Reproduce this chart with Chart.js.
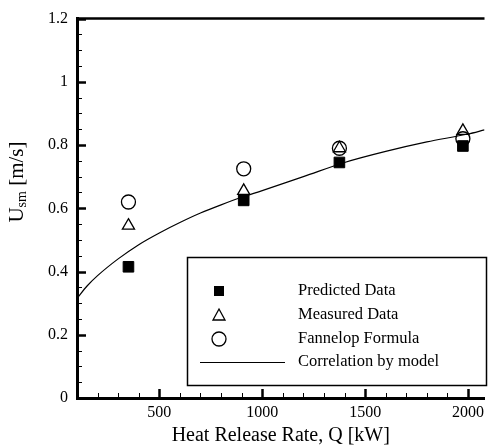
<!DOCTYPE html>
<html><head><meta charset="utf-8">
<script src="https://cdn.jsdelivr.net/npm/chart.js@4/dist/chart.umd.min.js"></script>
<style>html,body{margin:0;padding:0;background:#fff}#wrap{width:493px;height:448px;position:relative}</style>
</head><body><div id="wrap"><canvas id="c" width="493" height="448"></canvas></div>
<script>
const heatRelease = [350, 910, 1375, 1975];
const predicted = [0.415, 0.625, 0.745, 0.797];
const measured = [0.545, 0.655, 0.79, 0.845];
const fannelop = [0.62, 0.725, 0.79, 0.82];
const curveQ = [100, 150, 200, 300, 400, 500, 600, 700, 800, 900, 1000, 1200, 1400, 1600, 1800, 2000, 2080];
const curveU = [0.315, 0.355, 0.387, 0.44, 0.485, 0.522, 0.555, 0.585, 0.611, 0.635, 0.656, 0.70, 0.745, 0.78, 0.81, 0.835, 0.848];
const xTickLabels = [500, 1000, 1500, 2000];
const yTickLabels = [0, 0.2, 0.4, 0.6, 0.8, 1, 1.2];
const seriesNames = ['Predicted Data', 'Measured Data', 'Fannelop Formula', 'Correlation by model'];
const xTitle = 'Heat Release Rate, Q [kW]';

const SERIF = "'Liberation Serif','Times New Roman',serif";

const decor = {
  id: 'decor',
  afterDraw(chart) {
    const ctx = chart.ctx, ca = chart.chartArea;
    const xs = chart.scales.x, ys = chart.scales.y;
    ctx.save();
    ctx.strokeStyle = '#000';
    ctx.lineWidth = 2.5;
    ctx.beginPath(); ctx.moveTo(ca.left - 1, ca.top); ctx.lineTo(ca.right, ca.top); ctx.stroke();
    for (let v = 0; v <= 1.2001; v += 0.05) {
      const major = Math.abs(v / 0.2 - Math.round(v / 0.2)) < 1e-6;
      const py = Math.round(ys.getPixelForValue(v)) + 0.5;
      ctx.lineWidth = major ? 2.5 : 1;
      ctx.beginPath(); ctx.moveTo(ca.left, py); ctx.lineTo(ca.left + (major ? 9 : 5), py); ctx.stroke();
    }
    for (let v = 100; v <= 2080; v += 100) {
      const major = v % 500 === 0;
      const px = Math.round(xs.getPixelForValue(v)) + 0.5;
      ctx.lineWidth = major ? 2.5 : 1;
      ctx.beginPath(); ctx.moveTo(px, ca.bottom); ctx.lineTo(px, ca.bottom - (major ? 9 : 5)); ctx.stroke();
    }
    ctx.fillStyle = '#000';
    ctx.font = '20px ' + SERIF;
    ctx.textAlign = 'center'; ctx.textBaseline = 'middle';
    ctx.fillText(xTitle, (ca.left + ca.right) / 2, 436);
    ctx.save();
    ctx.translate(17, 182);
    ctx.rotate(-Math.PI / 2);
    ctx.textAlign = 'left'; ctx.textBaseline = 'middle';
    const big = '21px ' + SERIF, small = '14px ' + SERIF;
    ctx.font = big; const wU = ctx.measureText('U').width; const wR = ctx.measureText(' [m/s]').width;
    ctx.font = small; const wS = ctx.measureText('sm').width;
    let x0 = -(wU + wS + wR) / 2;
    ctx.font = big; ctx.fillText('U', x0, 0);
    ctx.font = small; ctx.fillText('sm', x0 + wU, 5);
    ctx.font = big; ctx.fillText(' [m/s]', x0 + wU + wS, 0);
    ctx.restore();
    const bx = 187, by = 257, bw = 299, bh = 128;
    ctx.lineWidth = 1.5;
    ctx.strokeRect(bx + 0.5, by + 0.5, bw, bh);
    const rows = [291, 315, 339, 362];
    const sx = 219, tx = 298;
    ctx.font = '16.5px ' + SERIF;
    ctx.textAlign = 'left'; ctx.textBaseline = 'middle';
    rows.forEach((ry, i) => { ctx.fillText(seriesNames[i], tx, ry); });
    ctx.fillRect(sx - 5, rows[0] - 5, 10, 10);
    ctx.lineWidth = 1.3;
    ctx.beginPath(); ctx.moveTo(sx, rows[1] - 6); ctx.lineTo(sx + 6, rows[1] + 5); ctx.lineTo(sx - 6, rows[1] + 5); ctx.closePath(); ctx.stroke();
    ctx.beginPath(); ctx.arc(sx, rows[2], 7, 0, Math.PI * 2); ctx.stroke();
    ctx.lineWidth = 1.2;
    ctx.beginPath(); ctx.moveTo(200, rows[3] + 0.5); ctx.lineTo(285, rows[3] + 0.5); ctx.stroke();
    ctx.restore();
  }
};

const pts = (vals) => heatRelease.map((q, i) => ({ x: q, y: vals[i] }));

new Chart(document.getElementById('c'), {
  type: 'scatter',
  data: {
    datasets: [
      { label: seriesNames[3], type: 'line', data: curveQ.map((q, i) => ({ x: q, y: curveU[i] })),
        borderColor: '#000', borderWidth: 1.2, pointRadius: 0, cubicInterpolationMode: 'monotone', fill: false, order: 4 },
      { label: seriesNames[2], data: pts(fannelop), pointStyle: 'circle', pointRadius: 7, borderColor: '#000', backgroundColor: 'rgba(255,255,255,0)', borderWidth: 1.3 },
      { label: seriesNames[1], data: pts(measured), pointStyle: 'triangle', pointRadius: 7, borderColor: '#000', backgroundColor: 'rgba(255,255,255,0)', borderWidth: 1.3 },
      { label: seriesNames[0], data: pts(predicted), pointStyle: 'rect', pointRadius: 7.5, borderColor: '#000', backgroundColor: '#000', borderWidth: 1 }
    ]
  },
  options: {
    responsive: false, animation: false,
    layout: { padding: { top: 15, right: 2, left: 0, bottom: 0 } },
    plugins: { legend: { display: false }, tooltip: { enabled: false } },
    scales: {
      x: {
        type: 'linear', min: 100, max: 2080,
        afterBuildTicks: (s) => { s.ticks = xTickLabels.map(v => ({ value: v })); },
        afterFit: (s) => { s.height = 50; },
        grid: { display: false, drawTicks: false },
        border: { display: true, color: '#000', width: 3 },
        ticks: { color: '#000', padding: 5, maxRotation: 0, font: { family: SERIF, size: 16 }, callback: (v) => String(v) }
      },
      y: {
        min: 0, max: 1.2,
        afterBuildTicks: (s) => { s.ticks = yTickLabels.map(v => ({ value: v })); },
        afterFit: (s) => { s.width = 77; },
        grid: { display: false, drawTicks: false },
        border: { display: true, color: '#000', width: 3 },
        ticks: { color: '#000', padding: 9, font: { family: SERIF, size: 16 }, callback: (v) => String(v) }
      }
    }
  },
  plugins: [decor]
});
</script>
</body></html>
